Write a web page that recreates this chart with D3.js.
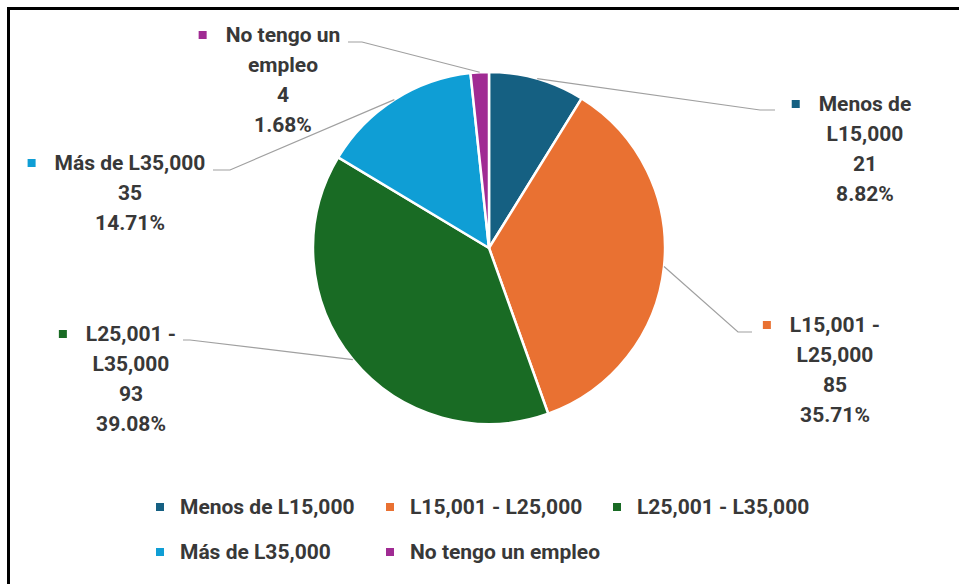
<!DOCTYPE html>
<html>
<head>
<meta charset="utf-8">
<script src="https://cdn.jsdelivr.net/npm/d3@7"></script>
<style>
  body { margin: 0; background: #fff; overflow: hidden; }
  svg { display: block; }
  text { font-family: Roboto, "Noto Sans", sans-serif; font-weight: 700; fill: #383838; }
</style>
</head>
<body>
<div id="chart"></div>
<script>
// data
const categories = ["Menos de L15,000", "L15,001 - L25,000", "L25,001 - L35,000", "Más de L35,000", "No tengo un empleo"];
const values = [21, 85, 93, 35, 4];
const labelNames = [["Menos de", "L15,000"], ["L15,001 -", "L25,000"], ["L25,001 -", "L35,000"], ["Más de L35,000"], ["No tengo un", "empleo"]];
const colors = ["#156082", "#e97132", "#196b24", "#0f9ed5", "#a02b93"];

// where each data label sits (center x, first line y) and its leader line end / elbow
const labelPos = [
  {cx: 865, y: 104, end: [775, 110], elbow: [760, 110]},
  {cx: 835, y: 325, end: [752, 332], elbow: [738, 332]},
  {cx: 131, y: 334, end: [183, 340], elbow: [190, 340]},
  {cx: 130, y: 163, end: [213, 170], elbow: [230, 170]},
  {cx: 283, y: 35,  end: [348, 42],  elbow: [362, 42]}
];

const width = 959, height = 584;
const cx = 489, cy = 248, radius = 176;
const lineH = 30;

const svg = d3.select("#chart")
  .append("svg")
    .attr("width", width)
    .attr("height", height);

// frame: only the left and top edges are inside the picture
svg.append("path")
  .attr("d", `M8.5,${height} V8.5 H${width}`)
  .attr("fill", "none")
  .attr("stroke", "#000")
  .attr("stroke-width", 3);

const total = d3.sum(values);
const pct = d3.format(".2%");
const color = d3.scaleOrdinal().domain(categories).range(colors);

const pie = d3.pie().sort(null).value(d => d.value);
const arcs = pie(categories.map((c, i) => ({name: c, value: values[i], i: i})));
const arc = d3.arc().innerRadius(0).outerRadius(radius);
const edge = d3.arc().innerRadius(radius).outerRadius(radius);

const g = svg.append("g").attr("transform", `translate(${cx},${cy})`);

g.selectAll("path")
  .data(arcs)
  .enter()
  .append("path")
    .attr("d", arc)
    .attr("fill", d => color(d.data.name))
    .attr("stroke", "#fff")
    .attr("stroke-width", 2.5);

// leader lines from slice edge to the label
svg.selectAll(".leader")
  .data(arcs)
  .enter()
  .append("polyline")
    .attr("class", "leader")
    .attr("fill", "none")
    .attr("stroke", "#a0a0a0")
    .attr("stroke-width", 1.2)
    .attr("points", d => {
      const p = edge.centroid(d);
      const lp = labelPos[d.data.i];
      return [[p[0] + cx, p[1] + cy], lp.elbow, lp.end].map(q => q.join(",")).join(" ");
    });

// data labels
arcs.forEach(d => {
  const i = d.data.i, lp = labelPos[i];
  const lines = labelNames[i].concat([String(d.data.value), pct(d.data.value / total)]);
  const lg = svg.append("g");
  let first;
  lines.forEach((t, k) => {
    const tx = lg.append("text")
      .attr("x", lp.cx)
      .attr("y", lp.y + k * lineH)
      .attr("dy", "0.35em")
      .attr("text-anchor", "middle")
      .style("font-size", "21px")
      .text(t);
    if (k === 0) first = tx;
  });
  const bb = first.node().getBBox();
  lg.append("rect")
    .attr("x", bb.x - 23 - 4).attr("y", lp.y - 4)
    .attr("width", 8).attr("height", 8)
    .attr("fill", color(d.data.name));
});

// legend
const legCols = [160, 390, 617], legRows = [507, 552];
const legend = svg.selectAll(".leg")
  .data(categories)
  .enter()
  .append("g")
    .attr("class", "leg")
    .attr("transform", (d, i) => `translate(${legCols[i % 3]},${legRows[Math.floor(i / 3)]})`);

legend.append("rect")
  .attr("x", -4).attr("y", -4)
  .attr("width", 8).attr("height", 8)
  .attr("fill", d => color(d));

legend.append("text")
  .attr("x", 20)
  .attr("dy", "0.35em")
  .style("font-size", "21px")
  .text(d => d);
</script>
</body>
</html>
